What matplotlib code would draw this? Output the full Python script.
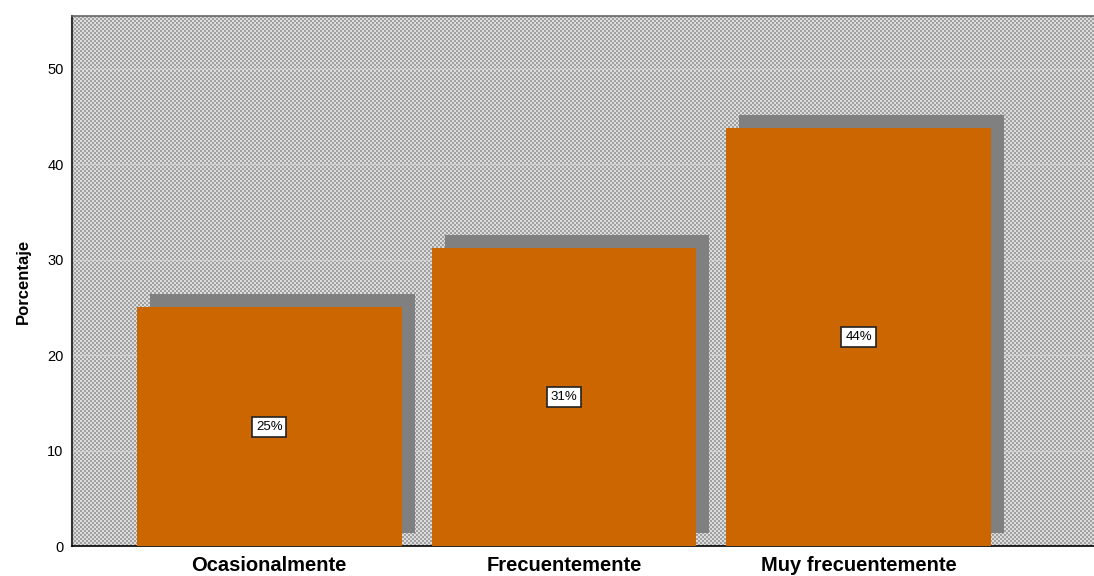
import numpy as np
import matplotlib
matplotlib.use("Agg")
import matplotlib.pyplot as plt
from matplotlib import transforms

plt.rcParams['font.family'] = ['Liberation Sans', 'DejaVu Sans']

categories = ["Ocasionalmente", "Frecuentemente", "Muy frecuentemente"]
percentages = [25.0, 31.25, 43.75]
bar_labels = ["25%", "31%", "44%"]
y_ticks = [0, 10, 20, 30, 40, 50]

W, H = 1094, 576
fig = plt.figure(figsize=(W / 100, H / 100), dpi=100)
ax_left, ax_bottom, ax_right, ax_top = 72, 30, 1094, 560
ax = fig.add_axes([ax_left / W, ax_bottom / H, (ax_right - ax_left) / W, (ax_top - ax_bottom) / H])

# stippled grey background
nx, ny = ax_right - ax_left, ax_top - ax_bottom
yy, xx = np.mgrid[0:ny, 0:nx]
checker = ((xx // 2 + yy // 2) % 2).astype(float)
bg = np.where(checker[..., None] > 0, np.array([0.63, 0.63, 0.63]), np.array([0.87, 0.87, 0.87]))
ax.imshow(bg, extent=(0, 1, 0, 1), transform=ax.transAxes, aspect='auto',
          interpolation='nearest', zorder=0)

x = np.arange(len(categories))
width = 0.898

# horizontal grid lines
for t in y_ticks[1:]:
    ax.axhline(t, color='#d8d8d8', lw=1.0, alpha=0.6, zorder=1)

# drop shadow behind each bar
shadow_tr = transforms.offset_copy(ax.transData, fig=fig, x=13, y=13, units='dots')
ax.bar(x, percentages, width=width, color='#808080', transform=shadow_tr, zorder=2)
ax.bar(x, percentages, width=width, color='#CC6600', zorder=3)

for xi, v, lab in zip(x, percentages, bar_labels):
    ax.text(xi, v / 2, lab, ha='center', va='center', fontsize=9.5, zorder=5,
            bbox=dict(boxstyle='square,pad=0.3', fc='white', ec='#222222', lw=1.2))

ax.set_xlim(-0.669, 2.798)
ax.set_ylim(0, 55.5)
ax.set_yticks(y_ticks)
ax.set_xticks(x)
ax.set_xticklabels(categories, fontsize=14.5, fontweight='bold')
ax.tick_params(axis='both', length=0)
ax.tick_params(axis='y', labelsize=10.5, pad=6)
ax.tick_params(axis='x', pad=7)
ax.set_ylabel("Porcentaje", fontsize=12, fontweight='bold', labelpad=12)

ax.spines['right'].set_visible(False)
ax.spines['left'].set_color('#333333')
ax.spines['left'].set_linewidth(1.5)
ax.spines['bottom'].set_color('black')
ax.spines['bottom'].set_linewidth(1.2)
ax.spines['top'].set_color('#666666')
ax.spines['top'].set_linewidth(1.2)

fig.savefig("out.png", dpi=100)
